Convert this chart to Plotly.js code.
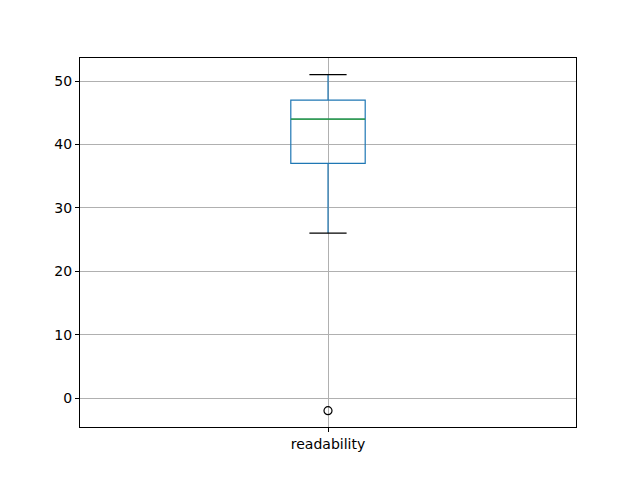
<!DOCTYPE html>
<html>
<head>
<meta charset="utf-8">
<script src="https://cdn.plot.ly/plotly-3.0.1.min.js"></script>
<style>html,body{margin:0;padding:0;background:#fff;}#chart{width:640px;height:480px;}</style>
</head>
<body>
<div id="chart"></div>
<script>
// Data
var categories = ['readability'];
var q1 = [37];
var median = [44];
var q3 = [47];
var lowerWhisker = [26];
var upperWhisker = [51];
var outliers = [-2];
var yTicks = [0, 10, 20, 30, 40, 50];

var pos = 1, boxW = 0.15, capW = boxW / 2;

var traces = [
  {
    type: 'box', x: [pos], q1: q1, median: median, q3: q3,
    lowerfence: lowerWhisker, upperfence: upperWhisker,
    width: boxW, whiskerwidth: 0, boxpoints: false,
    fillcolor: 'rgba(0,0,0,0)', line: {color: '#1f77b4', width: 1.2},
    hoverinfo: 'skip', showlegend: false
  },
  {
    type: 'scatter', mode: 'lines',
    x: [pos - boxW / 2, pos + boxW / 2], y: [median[0], median[0]],
    line: {color: '#2ca02c', width: 1.2}, hoverinfo: 'skip', showlegend: false
  },
  {
    type: 'scatter', mode: 'lines',
    x: [pos - capW / 2, pos + capW / 2, null, pos - capW / 2, pos + capW / 2],
    y: [lowerWhisker[0], lowerWhisker[0], null, upperWhisker[0], upperWhisker[0]],
    line: {color: '#000000', width: 1.2}, hoverinfo: 'skip', showlegend: false
  },
  {
    type: 'scatter', mode: 'markers',
    x: outliers.map(function(){ return pos; }), y: outliers,
    marker: {symbol: 'circle-open', color: '#000000', size: 8, line: {width: 1.2, color: '#000000'}},
    hoverinfo: 'skip', showlegend: false
  }
];

var layout = {
  width: 640, height: 480,
  margin: {l: 80, r: 64, t: 58, b: 53},
  paper_bgcolor: '#ffffff', plot_bgcolor: '#ffffff',
  font: {family: 'DejaVu Sans', size: 14, color: '#000000'},
  xaxis: {
    range: [0.5, 1.5], tickmode: 'array', tickvals: [pos], ticktext: categories,
    showgrid: true, gridcolor: '#b0b0b0', gridwidth: 1,
    zeroline: false, showline: true, linecolor: '#000000', linewidth: 1, mirror: true,
    ticks: 'outside', ticklen: 4, tickcolor: '#000000'
  },
  yaxis: {
    range: [-4.57, 53.63], tickmode: 'array', tickvals: yTicks,
    showgrid: true, gridcolor: '#b0b0b0', gridwidth: 1,
    zeroline: false, showline: true, linecolor: '#000000', linewidth: 1, mirror: true,
    ticks: 'outside', ticklen: 4, tickcolor: '#000000'
  }
};

Plotly.newPlot('chart', traces, layout, {staticPlot: true, displayModeBar: false});
</script>
</body>
</html>
